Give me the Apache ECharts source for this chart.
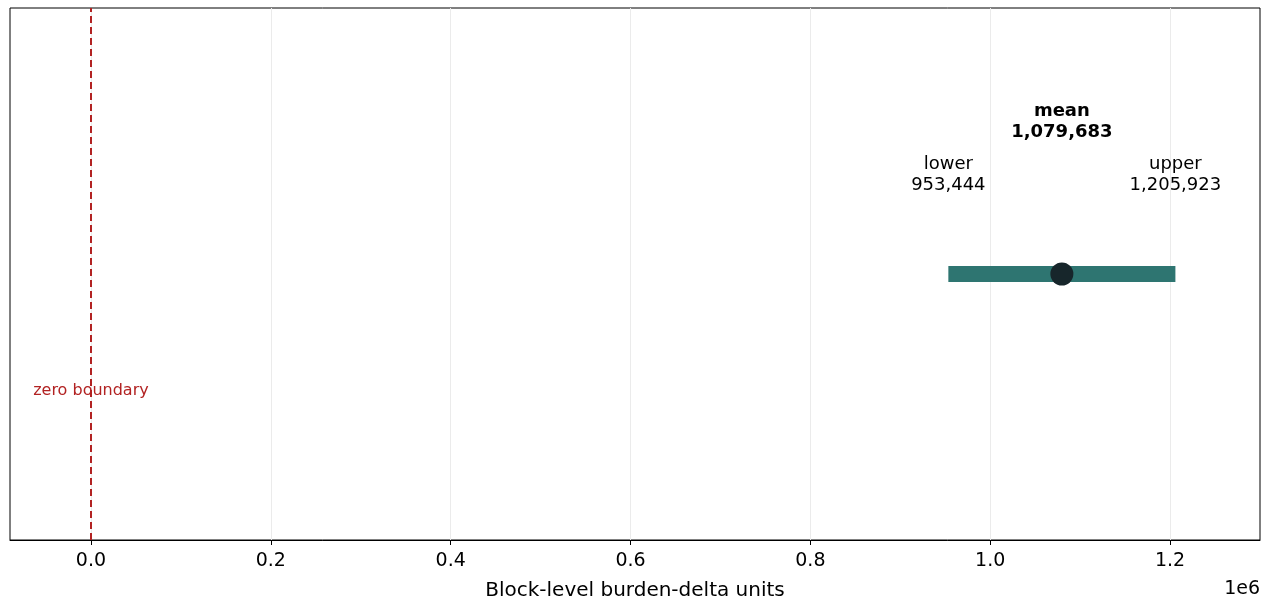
<!DOCTYPE html>
<html>
<head>
<meta charset="utf-8">
<script src="https://cdn.jsdelivr.net/npm/echarts@6/dist/echarts.min.js"></script>
<style>
  html, body { margin: 0; padding: 0; background: #fff; }
  #chart { width: 1270px; height: 602px; }
</style>
</head>
<body>
<div id="chart"></div>
<script>
// interval estimate
var lowerValue = 953444;
var meanValue = 1079683;
var upperValue = 1205923;
var zeroValue = 0;
var tickValues = [0, 200000, 400000, 600000, 800000, 1000000, 1200000];
var axisName = 'Block-level burden-delta units';

var fontFamily = 'DejaVu Sans';
var fmt = function (v) { return v.toLocaleString('en-US'); };

var chart = echarts.init(document.getElementById('chart'));

var option = {
	animation: false,
	grid: {left: 10, right: 10, top: 8, bottom: 62, show: true, borderColor: '#000', borderWidth: 1, outerBoundsMode: 'none'},
	xAxis: {
		type: 'value',
		min: -90000,
		max: 1300000,
		name: axisName,
		nameLocation: 'middle',
		nameGap: 41,
		nameTextStyle: {fontFamily: fontFamily, fontSize: 20, color: '#000'},
		axisLine: {show: true, onZero: false, lineStyle: {color: '#000', width: 1}},
		axisTick: {show: true, customValues: tickValues, length: 5, lineStyle: {color: '#000'}},
		axisLabel: {
			customValues: tickValues,
			margin: 12,
			fontFamily: fontFamily,
			fontSize: 19,
			color: '#000',
			formatter: function (v) { return (v / 1e6).toFixed(1); }
		},
		splitLine: {show: true, lineStyle: {color: '#ebebeb', width: 1}}
	},
	yAxis: {
		type: 'value',
		min: -1,
		max: 1,
		show: false
	},
	graphic: [{
		type: 'text',
		right: 10,
		top: 580,
		style: {text: '1e6', fontFamily: fontFamily, fontSize: 19, fill: '#000'}
	}],
	series: [
		{
			type: 'line',
			data: [[lowerValue, 0], [upperValue, 0]],
			symbol: 'none',
			lineStyle: {color: '#2e7571', width: 16, cap: 'butt'},
			z: 3,
			markLine: {
				silent: true,
				symbol: 'none',
				label: {show: false},
				lineStyle: {color: '#b22222', width: 2, type: [7, 4]},
				data: [{xAxis: zeroValue}]
			}
		},
		{
			type: 'scatter',
			data: [[meanValue, 0]],
			symbolSize: 23,
			itemStyle: {color: '#17262b', opacity: 1},
			z: 4
		},
		{
			type: 'scatter',
			symbolSize: 0,
			silent: true,
			itemStyle: {opacity: 1},
			data: [
				{value: [meanValue, 0.571], label: {formatter: 'mean\n' + fmt(meanValue), fontWeight: 'bold', color: '#000'}},
				{value: [lowerValue, 0.372], label: {formatter: 'lower\n' + fmt(lowerValue), color: '#000'}},
				{value: [upperValue, 0.372], label: {formatter: 'upper\n' + fmt(upperValue), color: '#000'}},
				{value: [zeroValue, -0.44], label: {formatter: 'zero boundary', color: '#b22222', fontSize: 16}}
			],
			label: {
				show: true,
				position: [0, 0],
				fontFamily: fontFamily,
				fontSize: 18,
				lineHeight: 21,
				color: '#000',
				opacity: 1,
				align: 'center',
				verticalAlign: 'middle'
			},
			z: 5
		}
	]
};

chart.setOption(option);
</script>
</body>
</html>
